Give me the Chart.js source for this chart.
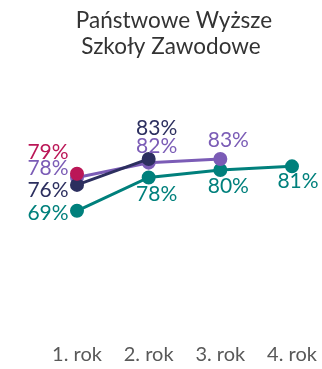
<!DOCTYPE html>
<html>
<head>
<meta charset="utf-8">
<script src="https://cdn.jsdelivr.net/npm/chart.js@4/dist/chart.umd.min.js"></script>
<style>
	html, body { margin: 0; padding: 0; background: #fff; }
	#wrap { width: 322px; height: 369px; position: relative; }
</style>
</head>
<body>
<div id="wrap"><canvas id="grafico"></canvas></div>
<script>
const titolo = ["Państwowe Wyższe", "Szkoły Zawodowe"];
const anni = ["1. rok", "2. rok", "3. rok", "4. rok"];
// una serie per ogni rocznik (cohort)
const rocznikA = [69, 78, 80, 81];
const rocznikB = [78, 82, 83, null];
const rocznikC = [76, 83, null, null];
const rocznikD = [79, null, null, null];

const FONT = "Lato, 'Open Sans', sans-serif";

// spostamento etichette rispetto al punto: [dx centro testo, dy linea di base]
const posA = [[-29, 9], [8, 24], [8, 23], [6, 22]];
const posB = [[-29, -2], [8, -10], [8, -12]];
const posC = [[-29, 12], [8, -24]];
const posD = [[-29, -15]];

function serie(valori, colore, pos, ordine) {
	return {
		data: valori,
		borderColor: colore,
		backgroundColor: colore,
		pointBackgroundColor: colore,
		pointBorderColor: colore,
		borderWidth: 3,
		pointRadius: 5.5,
		pointHoverRadius: 5.5,
		spanGaps: false,
		order: ordine,
		etichette: pos
	};
}

const pluginTitolo = {
	id: "titolo",
	afterDraw(chart) {
		let ctx = chart.ctx;
		ctx.save();
		ctx.font = "22.5px " + FONT;
		ctx.fillStyle = "#333333";
		ctx.textAlign = "center";
		ctx.textBaseline = "alphabetic";
		ctx.fillText(titolo[0], 174, 28);
		ctx.fillText(titolo[1], 171, 54);
		ctx.restore();
	}
};

const pluginEtichette = {
	id: "etichette",
	afterDatasetsDraw(chart) {
		let ctx = chart.ctx;
		ctx.save();
		ctx.font = "21px " + FONT;
		ctx.textAlign = "center";
		ctx.textBaseline = "alphabetic";
		chart.data.datasets.forEach((ds, i) => {
			let meta = chart.getDatasetMeta(i);
			meta.data.forEach((pt, j) => {
				if (ds.data[j] == null) return;
				let off = ds.etichette[j];
				ctx.fillStyle = ds.borderColor;
				ctx.fillText(ds.data[j] + "%", pt.x + off[0], pt.y + off[1]);
			});
		});
		ctx.restore();
	}
};

let chart = new Chart(document.getElementById("grafico"), {
	type: "line",
	data: {
		labels: anni,
		datasets: [
			serie(rocznikA, "#00807c", posA, 3),
			serie(rocznikB, "#7b5cb6", posB, 2),
			serie(rocznikC, "#2c2f5f", posC, 1),
			serie(rocznikD, "#bb1757", posD, 0)
		]
	},
	options: {
		responsive: true,
		maintainAspectRatio: false,
		animation: false,
		events: [],
		layout: { padding: { left: 77, right: 30, top: 96, bottom: 0 } },
		plugins: {
			legend: { display: false },
			tooltip: { enabled: false }
		},
		scales: {
			x: {
				offset: false,
				grid: { display: false },
				border: { display: false },
				ticks: {
					color: "#595959",
					font: { family: FONT, size: 20 },
					padding: 2,
					maxRotation: 0
				}
			},
			y: {
				display: false,
				min: 36,
				max: 100
			}
		}
	},
	plugins: [pluginTitolo, pluginEtichette]
});
</script>
</body>
</html>
